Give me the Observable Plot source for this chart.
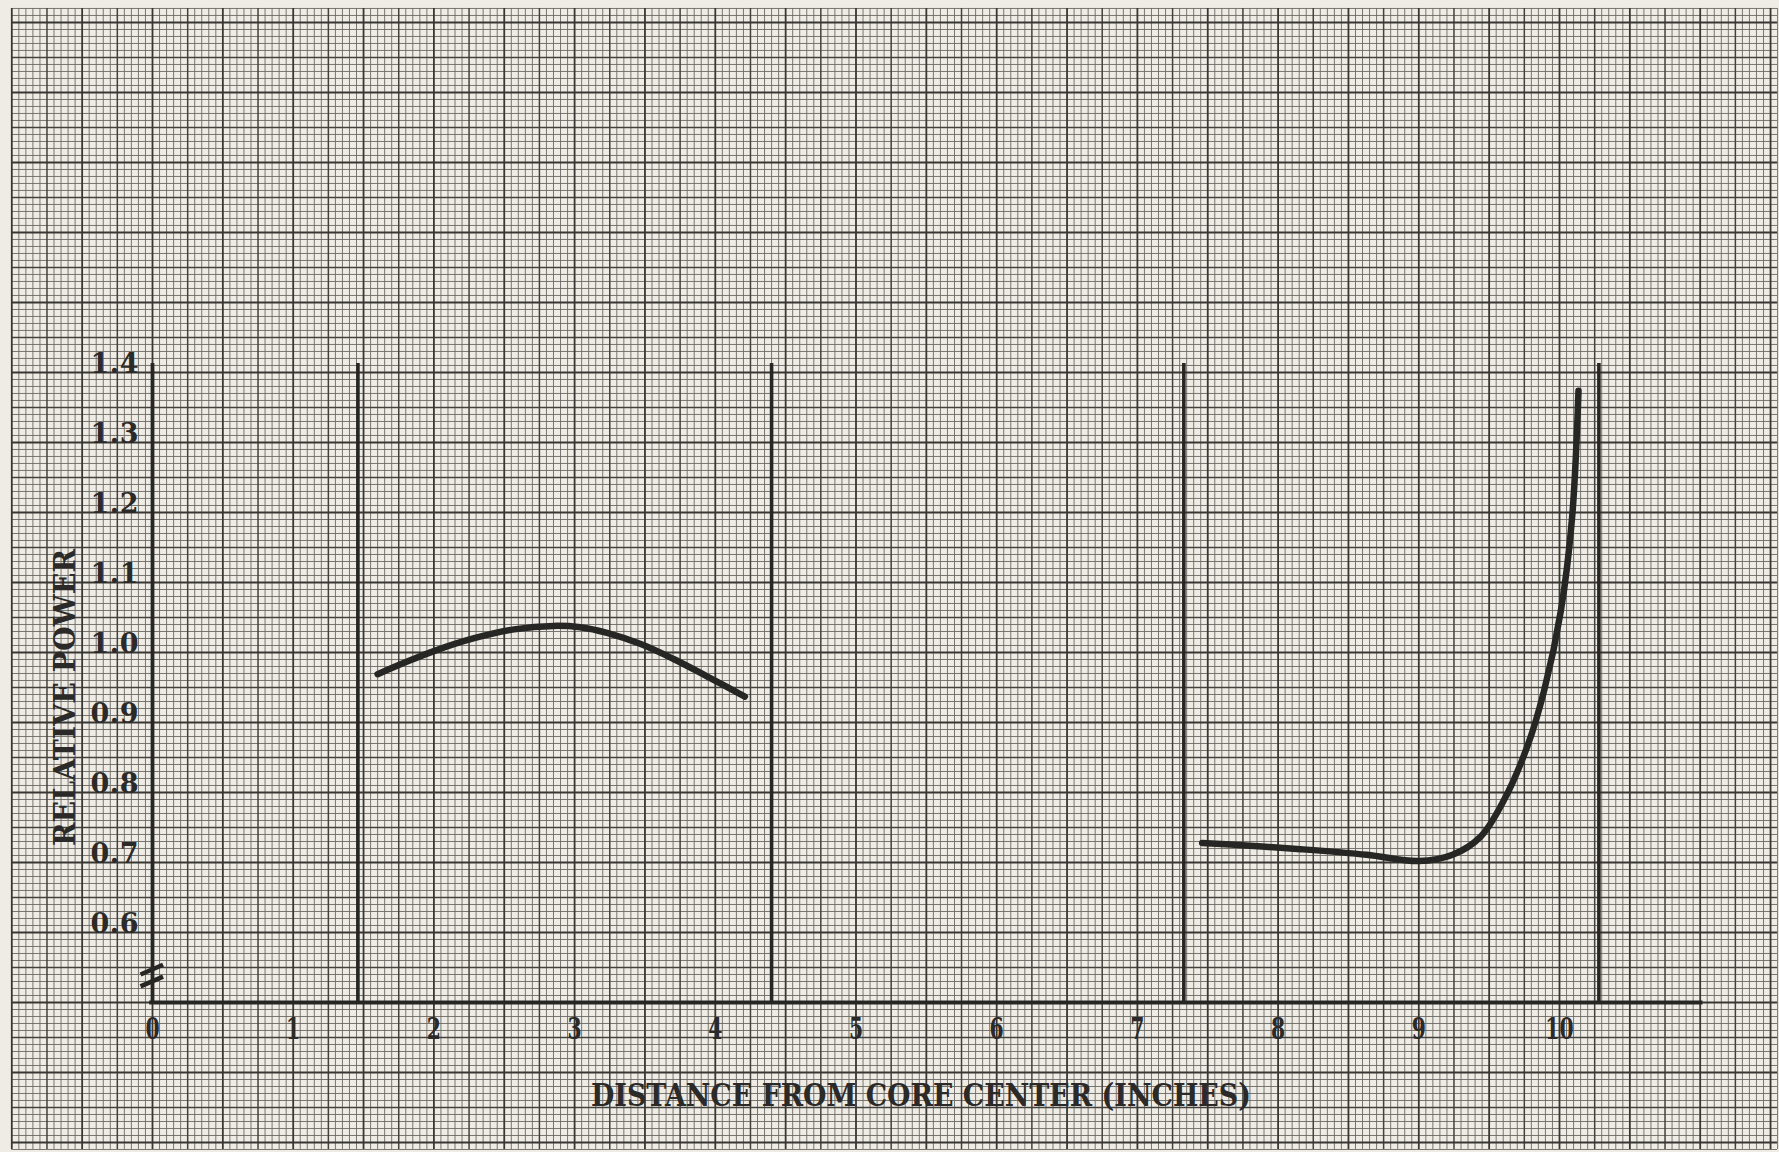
<!DOCTYPE html>
<html>
<head>
<meta charset="utf-8">
<script src="https://cdn.jsdelivr.net/npm/d3@7"></script>
<script src="https://cdn.jsdelivr.net/npm/@observablehq/plot@0.6"></script>
<style>
  html, body { margin: 0; padding: 0; background: #efece5; }
  svg { display: block; }
</style>
</head>
<body>
<div id="chart"></div>
<script>
// ---------- data ----------
const xTicks = [0, 1, 2, 3, 4, 5, 6, 7, 8, 9, 10];
const yTicks = [0.6, 0.7, 0.8, 0.9, 1.0, 1.1, 1.2, 1.3, 1.4];
const xTitle = "DISTANCE FROM CORE CENTER (INCHES)";
const yTitle = "RELATIVE POWER";

// region boundaries (vertical lines), inches
const boundaries = [1.46, 4.40, 7.33, 10.28];

// inner region curve
const innerX = [1.60, 1.81, 2.00, 2.28, 2.57, 2.85, 3.04, 3.23, 3.47, 3.70, 3.94, 4.21];
const innerY = [0.969, 0.987, 1.002, 1.020, 1.033, 1.038, 1.036, 1.028, 1.012, 0.991, 0.966, 0.937];

// outer region curve
const outerX = [7.46, 7.80, 8.16, 8.63, 9.00, 9.24, 9.44, 9.60, 9.77, 9.89, 10.01, 10.09, 10.135];
const outerY = [0.728, 0.724, 0.719, 0.711, 0.702, 0.711, 0.737, 0.787, 0.865, 0.945, 1.060, 1.194, 1.374];

// axis extents
const axisBase = 0.5;      // y value of the x-axis line (broken axis)
const axisTop = 1.413;     // top of y-axis and boundary lines
const axisXEnd = 11.02;    // right end of x-axis line
const breakAt = [0.530, 0.547]; // broken-axis slash marks (y values)

// scale extents (whole sheet of graph paper)
const X_DOMAIN = [-1.0803, 11.5636];
const Y_DOMAIN = [0.2857, 1.9314];

// ---------- derived tables ----------
const inner = innerX.map((x, i) => ({x, y: innerY[i]}));
const outer = outerX.map((x, i) => ({x, y: outerY[i]}));

// graph-paper grid: 20 cells per inch in x, 100 cells per unit in y
const gx = d3.range(-20, 232).map(i => ({v: i / 20, k: i % 10 === 0 ? 2 : i % 5 === 0 ? 1 : 0}));
const gy = d3.range(29, 193).map(j => ({v: j / 100, k: j % 10 === 0 ? 2 : j % 5 === 0 ? 1 : 0}));
const gxLo = gx[0].v, gxHi = gx[gx.length - 1].v;
const gyLo = gy[0].v, gyHi = gy[gy.length - 1].v;
const gridStroke = ["#6b6964", "#42413d", "#383733"];
const gridWidth = [0.9, 1.5, 1.8];

const breaks = breakAt.map(y => ({x1: -0.085, x2: 0.075, y1: y - 0.007, y2: y + 0.007}));

const ink = "#262624";
const serif = "'DejaVu Serif', 'Liberation Serif', serif";

const gridMarks = [0, 1, 2].flatMap(k => [
  Plot.ruleX(gx.filter(d => d.k === k), {x: "v", y1: () => gyLo, y2: () => gyHi, stroke: gridStroke[k], strokeWidth: gridWidth[k]}),
  Plot.ruleY(gy.filter(d => d.k === k), {y: "v", x1: () => gxLo, x2: () => gxHi, stroke: gridStroke[k], strokeWidth: gridWidth[k]})
]);

const fmt = d3.format(".1f");

const plot = Plot.plot({
  width: 1779,
  height: 1152,
  margin: 0,
  style: {background: "#efece5"},
  x: {domain: X_DOMAIN, axis: null},
  y: {domain: Y_DOMAIN, axis: null},
  marks: [
    ...gridMarks,
    // axes
    Plot.ruleY([axisBase], {x1: () => -0.02, x2: () => axisXEnd, stroke: ink, strokeWidth: 4}),
    Plot.ruleX([0], {y1: () => axisBase, y2: () => axisTop, stroke: ink, strokeWidth: 3.8}),
    Plot.link(breaks, {x1: "x1", y1: "y1", x2: "x2", y2: "y2", stroke: ink, strokeWidth: 4.5}),
    // region boundaries
    Plot.ruleX(boundaries, {y1: () => axisBase, y2: () => axisTop, stroke: ink, strokeWidth: 3.6}),
    // curves
    Plot.line(inner, {x: "x", y: "y", curve: "catmull-rom", stroke: ink, strokeWidth: 6.5, strokeLinecap: "round"}),
    Plot.line(outer, {x: "x", y: "y", curve: "catmull-rom", stroke: ink, strokeWidth: 6.5, strokeLinecap: "round"}),
    // tick labels
    Plot.text(yTicks, {
      x: () => 0, y: d => d, text: d => fmt(d),
      textAnchor: "end", lineAnchor: "bottom", dx: -14, dy: 1,
      fontFamily: serif, fontWeight: "bold", fontSize: 27, fill: "#2b2a28"
    }),
    Plot.text(xTicks, {
      x: d => d, y: () => axisBase, text: d => String(d),
      textAnchor: "middle", lineAnchor: "bottom", dy: 37,
      fontFamily: serif, fontWeight: "bold", fontSize: 30, fill: "#2b2a28"
    }),
    // titles
    Plot.text([xTitle], {
      frameAnchor: "bottom", text: d => d, dx: 31, dy: -47, lineAnchor: "bottom", textAnchor: "middle",
      fontFamily: serif, fontWeight: "bold", fontSize: 31, fill: "#2b2a28"
    }),
    Plot.text([yTitle], {
      frameAnchor: "left", text: d => d, dx: 65, dy: 121, rotate: -90, lineAnchor: "middle", textAnchor: "middle",
      fontFamily: serif, fontWeight: "bold", fontSize: 30, fill: "#2b2a28"
    })
  ]
});

document.getElementById("chart").append(plot);

// typewritten look: fit the lettering to the widths in the original
const xTickSet = new Set(xTicks.map(String));
const yTickSet = new Set(yTicks.map(fmt));
d3.select(plot).selectAll("text").each(function () {
  const t = this.textContent;
  const s = d3.select(this);
  if (t === xTitle) s.attr("textLength", 660).attr("lengthAdjust", "spacingAndGlyphs");
  else if (t === yTitle) s.attr("textLength", 297).attr("lengthAdjust", "spacingAndGlyphs");
  else if (yTickSet.has(t)) s.attr("textLength", 48).attr("lengthAdjust", "spacing");
  else if (xTickSet.has(t)) {
    const w = this.getComputedTextLength();
    s.attr("textLength", w * 0.68).attr("lengthAdjust", "spacingAndGlyphs");
  }
});
</script>
</body>
</html>
